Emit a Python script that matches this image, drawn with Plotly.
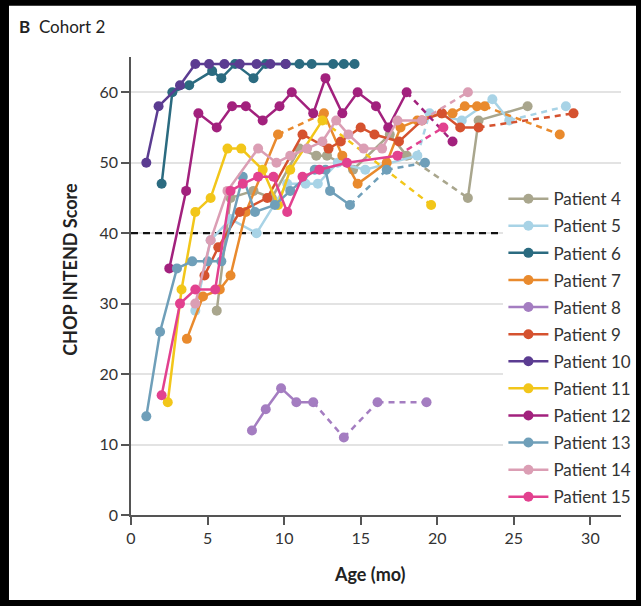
import plotly.graph_objects as go

names = ["Patient 4", "Patient 5", "Patient 6", "Patient 7", "Patient 8", "Patient 9",
         "Patient 10", "Patient 11", "Patient 12", "Patient 13", "Patient 14", "Patient 15"]
colors = ["#A9A68D", "#A8D3E6", "#2B6B80", "#E98A2D", "#A47DC1", "#D5522F",
          "#5B3C91", "#F2C61A", "#A2217D", "#6F9FB9", "#DB9EB4", "#E2418F"]

# Age (mo) and CHOP INTEND score per patient; dashed = indices of segments drawn dashed
p4_x = [5.6, 6.5, 8.0, 9.2, 11.0, 12.1, 12.8, 14.5, 16.9, 18.0, 22.0, 22.7, 25.9]
p4_y = [29, 45, 46, 45, 52, 51, 51, 49, 54, 51, 45, 56, 58]
p4_d = [9]
p5_x = [4.2, 5.2, 6.5, 8.2, 10.2, 11.4, 12.2, 13.5, 15.3, 18.7, 19.5, 21.6, 23.6, 24.7, 28.4]
p5_y = [29, 39, 42, 40, 47, 47, 47, 50, 49, 51, 57, 56, 59, 56, 58]
p5_d = [9, 13]
p6_x = [2.0, 2.7, 3.8, 5.3, 5.9, 6.8, 8.0, 8.8, 10.1, 11.0, 11.8, 13.2, 13.9, 14.6]
p6_y = [47, 60, 61, 63, 62, 64, 62, 64, 64, 64, 64, 64, 64, 64]
p6_d = []
p7_x = [3.65, 4.7, 5.8, 6.5, 7.5, 9.6, 12.6, 13.8, 14.8, 16.7, 17.6, 18.7, 20.3, 21.0, 21.8, 22.6, 23.1, 28.0]
p7_y = [25, 31, 32, 34, 43, 54, 57, 51, 47, 50, 55, 56, 57, 57, 58, 58, 58, 54]
p7_d = [5, 16]
p8_x = [7.9, 8.8, 9.8, 10.8, 11.9, 13.9, 16.1, 19.3]
p8_y = [12, 15, 18, 16, 16, 11, 16, 16]
p8_d = [4, 5, 6]
p9_x = [4.8, 5.7, 7.1, 8.9, 11.2, 12.9, 13.7, 15.0, 15.9, 17.5, 19.0, 20.3, 21.5, 22.7, 28.9]
p9_y = [34, 38, 43, 45, 54, 52, 53, 55, 54, 53, 56, 57, 55, 55, 57]
p9_d = [13]
p10_x = [1.0, 1.8, 3.2, 4.2, 5.1, 6.1, 7.1, 8.2, 9.1, 10.1]
p10_y = [50, 58, 61, 64, 64, 64, 64, 64, 64, 64]
p10_d = []
p11_x = [2.4, 3.3, 4.2, 5.2, 6.3, 7.2, 8.6, 9.6, 10.4, 12.5, 19.6]
p11_y = [16, 32, 43, 45, 52, 52, 49, 44, 49, 56, 44]
p11_d = [9]
p12_x = [2.5, 3.6, 4.4, 5.6, 6.6, 7.5, 8.6, 9.7, 10.5, 11.9, 12.7, 13.8, 14.8, 16.0, 16.8, 18.0, 21.0]
p12_y = [35, 46, 57, 55, 58, 58, 56, 58, 60, 57, 62, 57, 60, 58, 55, 60, 53]
p12_d = [15]
p13_x = [1.0, 1.9, 3.0, 4.0, 5.0, 5.9, 7.3, 8.1, 9.4, 10.4, 12.0, 12.7, 13.0, 14.3, 16.7, 19.2]
p13_y = [14, 26, 35, 36, 36, 36, 48, 43, 44, 46, 49, 49, 46, 44, 49, 50]
p13_d = [13, 14]
p14_x = [4.2, 5.2, 6.3, 8.3, 9.5, 10.4, 11.5, 12.5, 13.4, 14.2, 15.2, 16.4, 17.4, 19.0, 22.0]
p14_y = [30, 39, 46, 52, 50, 51, 52, 53, 56, 54, 52, 52, 56, 56, 60]
p14_d = [13]
p15_x = [2.0, 3.2, 4.2, 5.5, 6.5, 7.3, 8.3, 9.3, 10.2, 11.2, 12.3, 14.1, 17.4, 20.4]
p15_y = [17, 30, 32, 32, 46, 47, 48, 48, 43, 48, 49, 50, 51, 55]
p15_d = [12]

series = [(p4_x, p4_y, p4_d), (p5_x, p5_y, p5_d), (p6_x, p6_y, p6_d), (p7_x, p7_y, p7_d),
          (p8_x, p8_y, p8_d), (p9_x, p9_y, p9_d), (p10_x, p10_y, p10_d), (p11_x, p11_y, p11_d),
          (p12_x, p12_y, p12_d), (p13_x, p13_y, p13_d), (p14_x, p14_y, p14_d), (p15_x, p15_y, p15_d)]

threshold = 40
x_ticks = [0, 5, 10, 15, 20, 25, 30]
y_ticks = [0, 10, 20, 30, 40, 50, 60]

fig = go.Figure()
font = "Lato, 'Open Sans', sans-serif"

for name, col, (xs, ys, dsh) in zip(names, colors, series):
    sx, sy, dx, dy = [], [], [], []
    for i in range(len(xs)):
        sx.append(xs[i]); sy.append(ys[i])
        if i < len(xs) - 1 and i in dsh:
            sx.append(None); sy.append(None)
            dx += [xs[i], xs[i + 1], None]; dy += [ys[i], ys[i + 1], None]
    if dx:
        fig.add_trace(go.Scatter(x=dx, y=dy, mode="lines", showlegend=False, hoverinfo="skip",
                                 legendgroup=name,
                                 line=dict(color=col, width=2.5, dash="6px,5px")))
    fig.add_trace(go.Scatter(x=sx, y=sy, mode="lines+markers", name=name, connectgaps=False,
                             legendgroup=name,
                             line=dict(color=col, width=2.5),
                             marker=dict(color=col, size=10)))

fig.add_shape(type="line", xref="x", yref="y", x0=0, x1=32, y0=threshold, y1=threshold,
              line=dict(color="#111", width=2.2, dash="7px,5px"), layer="between")

fig.update_layout(
    width=641, height=606,
    margin=dict(l=131, r=20, t=57, b=91, autoexpand=False),
    paper_bgcolor="white", plot_bgcolor="white",
    font=dict(family=font, color="#333", size=16),
    showlegend=True,
    legend=dict(x=0.760, y=0.729, xanchor="left", yanchor="top", bgcolor="white",
                font=dict(size=17, color="#333"), tracegroupgap=2, itemwidth=40),
    xaxis=dict(range=[0, 32], tickvals=x_ticks, showgrid=False, zeroline=False,
               showline=True, linecolor="#555", linewidth=1.5, ticks="outside", ticklen=8,
               tickcolor="#555", tickwidth=1.5, tickfont=dict(size=16)),
    yaxis=dict(range=[0, 65], tickvals=y_ticks, showgrid=True, gridcolor="#E3E3E3", gridwidth=1.8,
               zeroline=False, showline=True, linecolor="#555", linewidth=1.5, ticks="outside",
               ticklen=8, tickcolor="#555", tickwidth=1.5, tickfont=dict(size=16)),
)

fig.add_annotation(xref="paper", yref="paper", x=-0.125, y=0.537, xanchor="center", yanchor="middle",
                   text="<b>CHOP INTEND Score</b>", textangle=-90, showarrow=False,
                   font=dict(size=18, color="#222"))
fig.add_annotation(xref="paper", yref="paper", x=0.488, y=-0.129, xanchor="center", yanchor="middle",
                   text="<b>Age (mo)</b>", showarrow=False, font=dict(size=18, color="#222"))
fig.add_annotation(xref="paper", yref="paper", x=-0.232, y=1.04, xanchor="left", yanchor="bottom",
                   text="<b>B</b>  Cohort 2", showarrow=False, font=dict(size=17, color="#222"))

# black frame
for (x0, x1, y0, y1) in [(-0.3, -0.249, -0.3, 1.2), (1.0306, 1.1, -0.3, 1.2),
                         (-0.3, 1.1, 1.112, 1.2), (-0.3, 1.1, -0.3, -0.1856)]:
    fig.add_shape(type="rect", xref="paper", yref="paper", x0=x0, x1=x1, y0=y0, y1=y1,
                  fillcolor="black", line=dict(width=0), layer="above")

fig.write_html("out.html", config={"displayModeBar": False},
               post_script="document.body.style.margin='0';document.body.style.background='black';")
